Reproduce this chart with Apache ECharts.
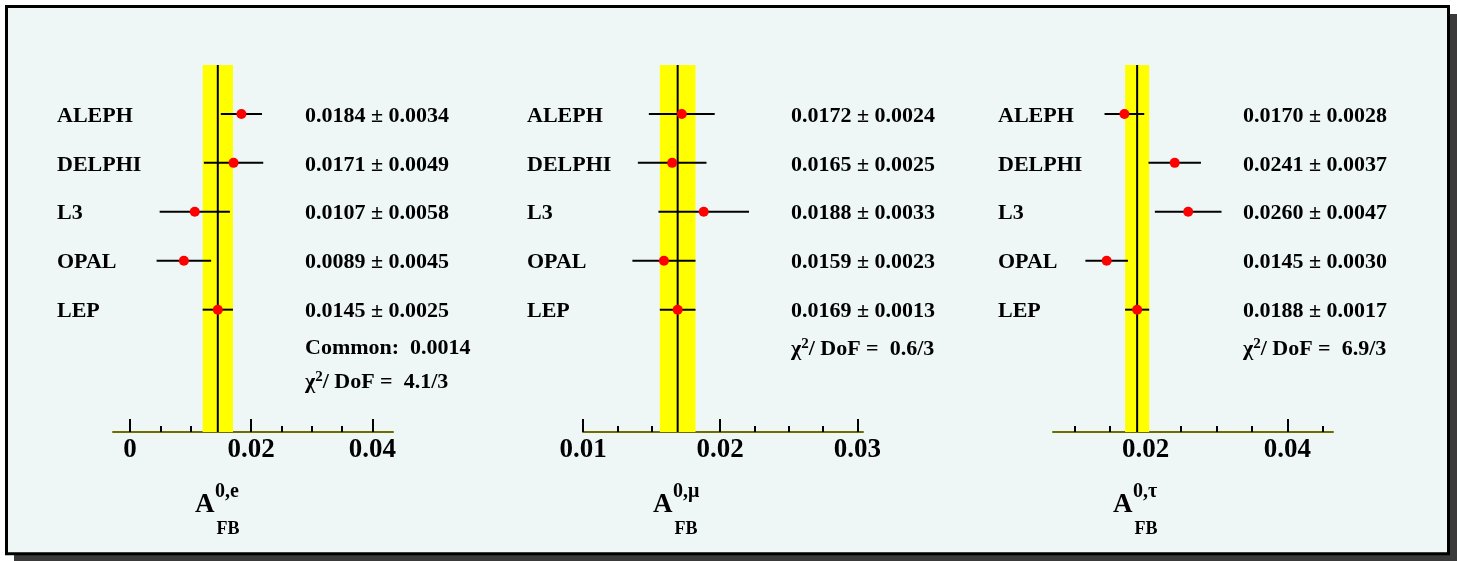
<!DOCTYPE html>
<html><head><meta charset="utf-8">
<script src="https://cdn.jsdelivr.net/npm/echarts@6/dist/echarts.min.js"></script>
<style>html,body{margin:0;padding:0;background:#fff}#c{width:1457px;height:561px}</style>
</head><body><div id="c"></div>
<script>
// ---- data ----
const experiments = ['ALEPH', 'DELPHI', 'L3', 'OPAL', 'LEP'];
const valuesE   = [0.0184, 0.0171, 0.0107, 0.0089, 0.0145];
const errorsE   = [0.0034, 0.0049, 0.0058, 0.0045, 0.0025];
const valuesMu  = [0.0172, 0.0165, 0.0188, 0.0159, 0.0169];
const errorsMu  = [0.0024, 0.0025, 0.0033, 0.0023, 0.0013];
const valuesTau = [0.0170, 0.0241, 0.0260, 0.0145, 0.0188];
const errorsTau = [0.0028, 0.0037, 0.0047, 0.0030, 0.0017];
const majorTicksE   = [0, 0.02, 0.04];
const minorTicksE   = [0.005, 0.01, 0.015, 0.025, 0.03, 0.035];
const majorTicksMu  = [0.01, 0.02, 0.03];
const minorTicksMu  = [0.0125, 0.015, 0.0175, 0.0225, 0.025, 0.0275];
const majorTicksTau = [0.02, 0.04];
const minorTicksTau = [0.01, 0.015, 0.025, 0.03, 0.035, 0.045];
const tickLabelsE   = ['0', '0.02', '0.04'];
const tickLabelsMu  = ['0.01', '0.02', '0.03'];
const tickLabelsTau = ['0.02', '0.04'];
const commonErrors  = ['0.0014', null, null];
const chi2PerDoF    = ['4.1/3', '0.6/3', '6.9/3'];
const superscripts  = ['0,e', '0,\u03bc', '0,\u03c4'];

// ---- layout ----
const FONT = '"Liberation Serif", "Times New Roman", serif';
const panels = [
  { vals: valuesE, errs: errorsE, major: majorTicksE, minor: minorTicksE, tl: tickLabelsE,
    left: 113, min: -0.0028, max: 0.04342, nameOff: 56, valOff: -88, titleX: 195,
    common: commonErrors[0], chi: chi2PerDoF[0], sup: superscripts[0], commonRow: 5.74, chiRow: 6.45 },
  { vals: valuesMu, errs: errorsMu, major: majorTicksMu, minor: minorTicksMu, tl: tickLabelsMu,
    left: 583, min: 0.01, max: 0.030408, nameOff: 56, valOff: -72, titleX: 653,
    common: commonErrors[1], chi: chi2PerDoF[1], sup: superscripts[1], chiRow: 5.76 },
  { vals: valuesTau, errs: errorsTau, major: majorTicksTau, minor: minorTicksTau, tl: tickLabelsTau,
    left: 1053, min: 0.00693, max: 0.04643, nameOff: 55, valOff: -90, titleX: 1113,
    common: commonErrors[2], chi: chi2PerDoF[2], sup: superscripts[2], chiRow: 5.76 }
];
const Y_MAX = 7.5;

const grid = [], xAxis = [], yAxis = [], series = [], graphic = [];
graphic.push({ type: 'rect', z: -10, shape: { x: 14, y: 14, width: 1443, height: 547 }, style: { fill: '#3a3a3a' } });
graphic.push({ type: 'rect', z: -9, shape: { x: 6.5, y: 6.5, width: 1442, height: 547.3 }, style: { fill: '#eef7f6', stroke: '#000', lineWidth: 3 } });

const labelStyle = { fontFamily: FONT, fontWeight: 'bold', fontSize: 22, color: '#000' };
const richStyles = { b: labelStyle, s: { fontFamily: FONT, fontWeight: 'bold', fontSize: 15, color: '#000', padding: [0, 0, 10, 0] } };

panels.forEach((p, i) => {
  grid.push({ left: p.left, top: 65, width: 280, height: 367 });
  xAxis.push({
    gridIndex: i, type: 'value', min: p.min, max: p.max, position: 'bottom',
    axisLine: { show: true, onZero: false, lineStyle: { color: '#6e6e00', width: 2 } },
    axisTick: { show: true, inside: true, length: 13, customValues: p.major, lineStyle: { color: '#000', width: 2 } },
    axisLabel: { show: true, customValues: p.major, margin: 5,
      formatter: v => { const k = p.major.findIndex(m => Math.abs(m - v) < 1e-9); return k >= 0 ? p.tl[k] : ''; },
      fontFamily: FONT, fontWeight: 'bold', fontSize: 27, color: '#000' },
    splitLine: { show: false }
  });
  xAxis.push({
    gridIndex: i, type: 'value', min: p.min, max: p.max, position: 'bottom',
    axisLine: { show: false, onZero: false },
    axisTick: { show: true, inside: true, length: 6, customValues: p.minor, lineStyle: { color: '#000', width: 2 } },
    axisLabel: { show: false }, splitLine: { show: false }
  });
  // names axis
  yAxis.push({
    gridIndex: i, type: 'value', inverse: true, min: 0, max: Y_MAX, position: 'left', offset: p.nameOff,
    axisLine: { show: false }, axisTick: { show: false }, splitLine: { show: false },
    axisLabel: { customValues: [1, 2, 3, 4, 5], margin: 0, align: 'left', padding: [4, 0, 0, 0],
      formatter: v => { const s = experiments[Math.round(v) - 1]; return s ? '{b|' + s + '}' : ''; },
      rich: richStyles }
  });
  // values axis
  const rows = [1, 2, 3, 4, 5];
  const texts = p.vals.map((v, k) => '{b|' + v.toFixed(4) + ' \u00b1 ' + p.errs[k].toFixed(4) + '}');
  if (p.common) { rows.push(p.commonRow); texts.push('{b|Common:  ' + p.common + '}'); }
  rows.push(p.chiRow); texts.push('{b|\u03c7}{s|2}{b|/ DoF =  ' + p.chi + '}');
  yAxis.push({
    gridIndex: i, type: 'value', inverse: true, min: 0, max: Y_MAX, position: 'right', offset: p.valOff,
    axisLine: { show: false }, axisTick: { show: false }, splitLine: { show: false },
    axisLabel: { customValues: rows, margin: 0, align: 'left', padding: [4, 0, 0, 0],
      formatter: v => { const k = rows.findIndex(r => Math.abs(r - v) < 1e-9); return k >= 0 ? texts[k] : ''; },
      rich: richStyles }
  });
  const n = p.vals.length;
  const lep = p.vals[n - 1], lepErr = p.errs[n - 1];
  // LEP average band + central line
  series.push({
    type: 'custom', xAxisIndex: 2 * i, yAxisIndex: 2 * i, z: 1, silent: true,
    data: [[lep - lepErr, lep + lepErr, lep]],
    encode: { x: [0, 1, 2] },
    renderItem: (params, api) => {
      const a = api.coord([api.value(0), 0]);
      const b = api.coord([api.value(1), Y_MAX]);
      const c0 = api.coord([api.value(2), 0]);
      const c1 = api.coord([api.value(2), Y_MAX]);
      return { type: 'group', children: [
        { type: 'rect', shape: { x: a[0], y: a[1], width: b[0] - a[0], height: b[1] - a[1] }, style: { fill: '#ffff00' } },
        { type: 'line', shape: { x1: c0[0], y1: c0[1], x2: c1[0], y2: c1[1] }, style: { stroke: '#000', lineWidth: 2 } }
      ] };
    }
  });
  // error bars
  series.push({
    type: 'custom', xAxisIndex: 2 * i, yAxisIndex: 2 * i, z: 3, silent: true,
    data: p.vals.map((v, k) => [v - p.errs[k], v + p.errs[k], k + 1]),
    encode: { x: [0, 1], y: 2 },
    renderItem: (params, api) => {
      const a = api.coord([api.value(0), api.value(2)]);
      const b = api.coord([api.value(1), api.value(2)]);
      return { type: 'line', shape: { x1: a[0], y1: a[1], x2: b[0], y2: b[1] }, style: { stroke: '#000', lineWidth: 2 } };
    }
  });
  series.push({
    type: 'scatter', xAxisIndex: 2 * i, yAxisIndex: 2 * i, z: 5, silent: true,
    symbol: 'circle', symbolSize: 10, itemStyle: { color: '#ff0000', opacity: 1 },
    data: p.vals.map((v, k) => [v, k + 1])
  });
  // axis title A_FB^{0,x}
  graphic.push({ type: 'text', z: 10, left: p.titleX, top: 492, style: { text: 'A', font: 'bold 27px ' + FONT, fill: '#000' } });
  graphic.push({ type: 'text', z: 10, left: p.titleX + 20, top: 482, style: { text: p.sup, font: 'bold 20px ' + FONT, fill: '#000' } });
  graphic.push({ type: 'text', z: 10, left: p.titleX + 21.5, top: 520, style: { text: 'FB', font: 'bold 18px ' + FONT, fill: '#000' } });
});

const chart = echarts.init(document.getElementById('c'), null, { renderer: 'canvas' });
chart.setOption({ backgroundColor: '#ffffff', animation: false, grid, xAxis, yAxis, series, graphic });
</script></body></html>
